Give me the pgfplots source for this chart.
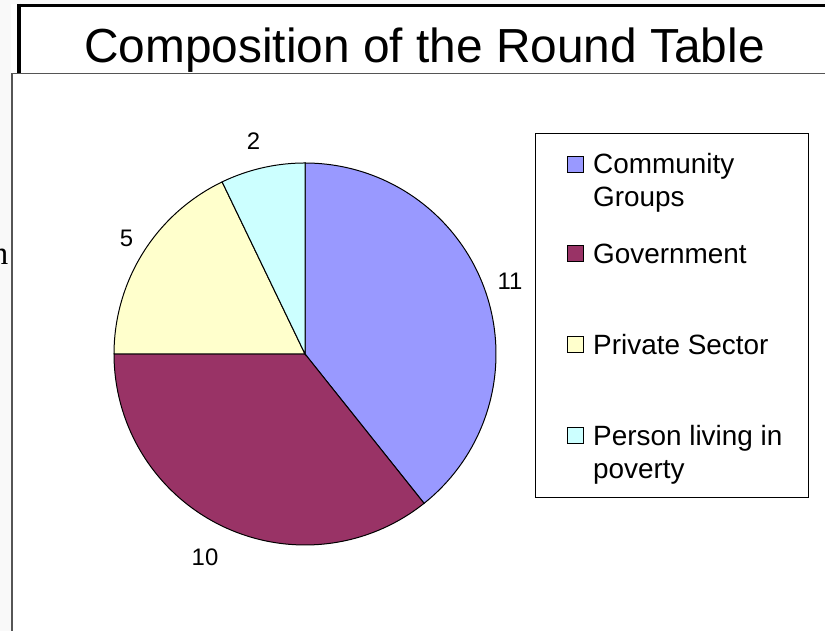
\documentclass[border=0pt]{standalone}
\usepackage{pgfplots}
\pgfplotsset{compat=1.18}
\usepackage{pgfplotstable}
\usepackage{fontspec}
\setmainfont{Liberation Sans}
\newfontfamily\seriffont{Liberation Serif}
\definecolor{cgroups}{HTML}{9999FF}
\definecolor{cgov}{HTML}{993366}
\definecolor{cpriv}{HTML}{FFFFCC}
\definecolor{cpov}{HTML}{CCFFFF}
\definecolor{framegray}{HTML}{555555}

\pgfplotstableread{
label value
Community 11
Government 10
Private 5
Poverty 2
}\piedata

\begin{document}%
\begin{tikzpicture}[x=1bp,y=1bp]
\pgfplotstablegetelem{0}{value}\of\piedata\let\vA\pgfplotsretval
\pgfplotstablegetelem{1}{value}\of\piedata\let\vB\pgfplotsretval
\pgfplotstablegetelem{2}{value}\of\piedata\let\vC\pgfplotsretval
\pgfplotstablegetelem{3}{value}\of\piedata\let\vD\pgfplotsretval
\pgfmathsetmacro\tot{\vA+\vB+\vC+\vD}
\pgfmathsetmacro\aZero{90}
\pgfmathsetmacro\aOne{\aZero-360*\vA/\tot}
\pgfmathsetmacro\aTwo{\aOne-360*\vB/\tot}
\pgfmathsetmacro\aThree{\aTwo-360*\vC/\tot}
\pgfmathsetmacro\aFour{\aThree-360*\vD/\tot}
\begin{scope}
\clip (0,0) rectangle (825,631);
\fill[gray!5] (0,0) rectangle (11,631);
\fill[gray!5] (11,627) rectangle (825,631);
\begin{axis}[
  at={(0,0)}, anchor=south west,
  scale only axis, width=825bp, height=631bp,
  xmin=0, xmax=825, ymin=0, ymax=631,
  hide axis, clip=false,
]
% frames
\draw[black, line width=3.3bp] (axis cs:19,627) -- (axis cs:19,625.3) -- (axis cs:826,625.3);
\draw[black, line width=3.3bp] (axis cs:19,627) -- (axis cs:19,558);
\fill[white] (axis cs:12,0) rectangle (axis cs:826,557.5);
\draw[framegray, line width=1.8bp] (axis cs:12,-2) -- (axis cs:12,557.5) -- (axis cs:826,557.5);
% title
\node[anchor=base, font=\fontsize{48}{51}\selectfont, inner sep=0pt] at (axis cs:424.5,568) {Composition of the Round Table};
% stray serif letter at left edge (cut off in the reference as well)
\node[anchor=base east, font=\seriffont\fontsize{33}{36}\selectfont, inner sep=0pt] at (axis cs:8.5,366) {n};
% pie
\addplot[fill=cgroups, draw=black, line width=1bp, domain=\aOne:\aZero, samples=90, variable=\t]
  ({305+191*cos(\t)},{277+191*sin(\t)}) -- (axis cs:305,277) -- cycle;
\addplot[fill=cgov, draw=black, line width=1bp, domain=\aTwo:\aOne, samples=90, variable=\t]
  ({305+191*cos(\t)},{277+191*sin(\t)}) -- (axis cs:305,277) -- cycle;
\addplot[fill=cpriv, draw=black, line width=1bp, domain=\aThree:\aTwo, samples=60, variable=\t]
  ({305+191*cos(\t)},{277+191*sin(\t)}) -- (axis cs:305,277) -- cycle;
\addplot[fill=cpov, draw=black, line width=1bp, domain=\aFour:\aThree, samples=30, variable=\t]
  ({305+191*cos(\t)},{277+191*sin(\t)}) -- (axis cs:305,277) -- cycle;
% data labels
\node[font=\fontsize{24}{26}\selectfont, inner sep=0pt] at (axis cs:510,350) {\vA};
\node[font=\fontsize{24}{26}\selectfont, inner sep=0pt] at (axis cs:205,73.5) {\vB};
\node[font=\fontsize{24}{26}\selectfont, inner sep=0pt] at (axis cs:126.5,392.3) {\vC};
\node[font=\fontsize{24}{26}\selectfont, inner sep=0pt] at (axis cs:253.5,489.5) {\vD};
% legend
\draw[black, line width=1bp, fill=white] (axis cs:535,133) rectangle (axis cs:808,497);
\draw[black, line width=1bp, fill=cgroups] (axis cs:567,474) rectangle (axis cs:583,458);
\draw[black, line width=1bp, fill=cgov] (axis cs:567,385) rectangle (axis cs:583,369);
\draw[black, line width=1bp, fill=cpriv] (axis cs:567,294) rectangle (axis cs:583,278);
\draw[black, line width=1bp, fill=cpov] (axis cs:567,203) rectangle (axis cs:583,187);
\node[anchor=base west, font=\fontsize{28}{30}\selectfont, inner sep=0pt] at (axis cs:593,457) {Community};
\node[anchor=base west, font=\fontsize{28}{30}\selectfont, inner sep=0pt] at (axis cs:593,424) {Groups};
\node[anchor=base west, font=\fontsize{28}{30}\selectfont, inner sep=0pt] at (axis cs:593,367) {Government};
\node[anchor=base west, font=\fontsize{28}{30}\selectfont, inner sep=0pt] at (axis cs:593,276) {Private Sector};
\node[anchor=base west, font=\fontsize{28}{30}\selectfont, inner sep=0pt] at (axis cs:593,185) {Person living in};
\node[anchor=base west, font=\fontsize{28}{30}\selectfont, inner sep=0pt] at (axis cs:593,152) {poverty};
\end{axis}
\end{scope}
\pgfresetboundingbox
\useasboundingbox (0,0) rectangle (825,631);
\end{tikzpicture}%
\end{document}
